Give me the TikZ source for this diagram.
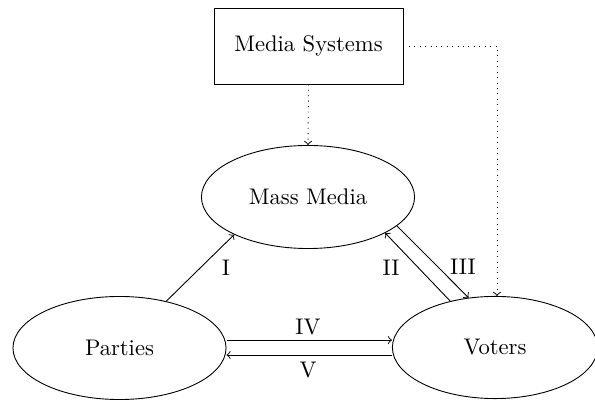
\documentclass[tikz,border=0pt]{standalone}
\usetikzlibrary{shapes.geometric}
\begin{document}
\begin{tikzpicture}[x=0.4425pt,y=-0.4425pt,
  ell/.style={draw,ellipse,minimum width=94.3pt,minimum height=45.6pt,inner sep=0pt},
  boxnode/.style={draw,rectangle,minimum width=83.6pt,minimum height=33.6pt},
  lab/.style={inner sep=0pt},
  >=to]
\useasboundingbox (0,0) rectangle (595,402);
\node[boxnode] (ms) at (308.5,46) {Media Systems};
\node[ell] (mm) at (308,197) {Mass Media};
\node[ell] (pa) at (119.5,348) {Parties};
\node[ell,minimum width=90.8pt,minimum height=45.2pt] (vo) at (495,347.5) {Voters};
\coordinate (corner) at (497,46);
\draw[->] (pa.45.6) -- (mm.-153);
\draw[->] (vo.134) -- (mm.-25.6);
\draw[->] (mm.-18.4) -- (vo.118);
\draw[->] ([yshift=3.5pt]pa.east) -- ([yshift=3.5pt]pa.east -| vo.west);
\draw[->] ([yshift=-3.3pt]vo.west) -- ([yshift=-3.3pt]vo.west -| pa.east);
\draw[->,dotted] (ms.south) -- (mm.north);
\draw[->,dotted] (ms.east) -- (corner) -- (vo.north -| corner);
\node[lab] (l1) at (226,268) {I};
\node[lab] (l2) at (391,268) {II};
\node[lab] (l3) at (463,267) {III};
\node[lab] (l4) at (308,327) {IV};
\node[lab] (l5) at (308,370) {V};
\end{tikzpicture}
\end{document}
